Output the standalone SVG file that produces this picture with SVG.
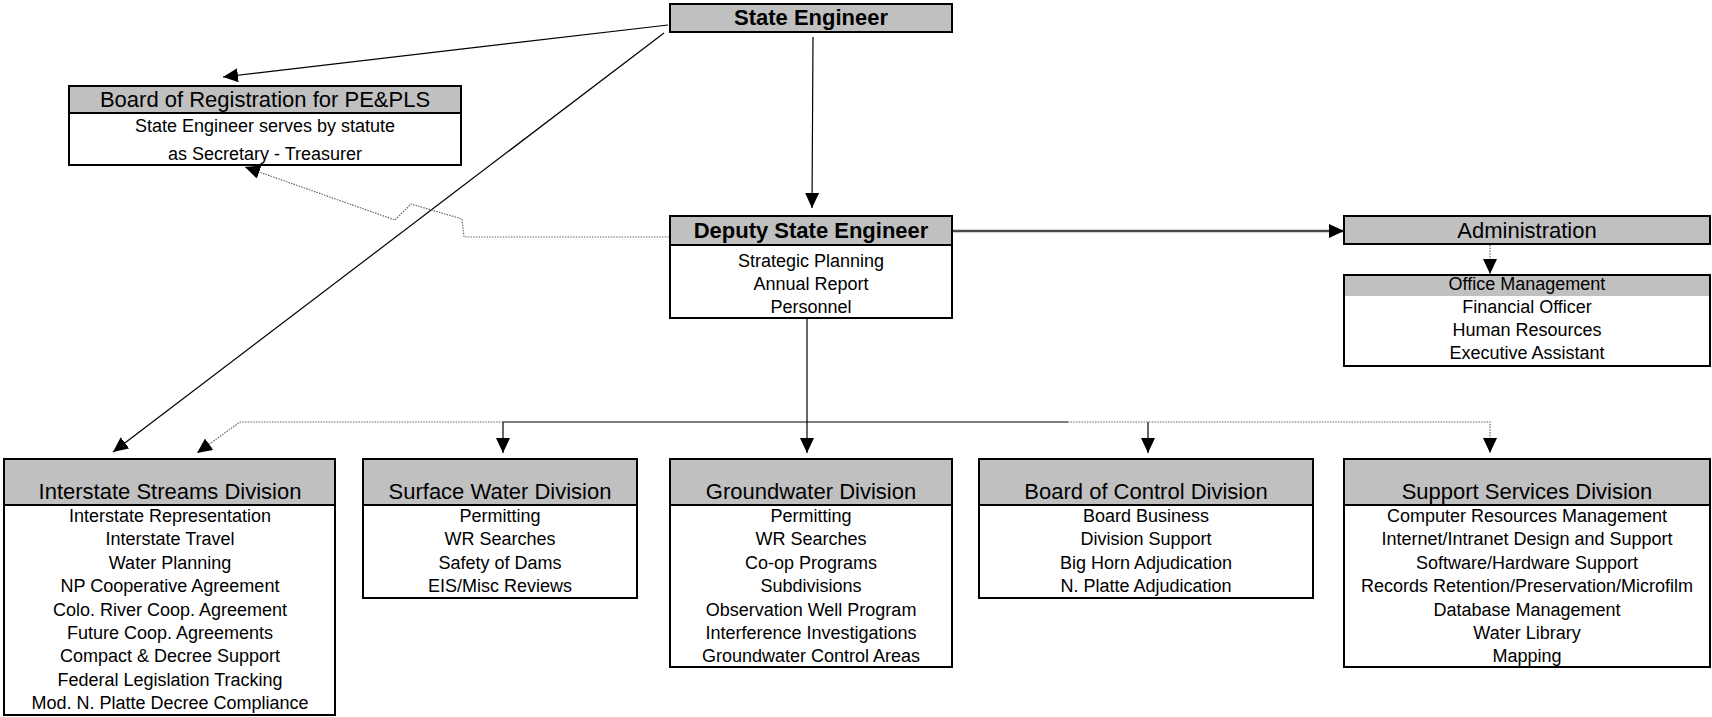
<svg xmlns="http://www.w3.org/2000/svg" width="1712" height="717" viewBox="0 0 1712 717">
<style>
text{font-family:"Liberation Sans",Arial,sans-serif;fill:#000;text-anchor:middle}
.hb{font-size:22px;font-weight:bold}
.h{font-size:22px}
.b{font-size:18px}
.box{fill:#fff;stroke:#000;stroke-width:2}
.hdr{fill:#c0c0c0;stroke:#000;stroke-width:2}
.hfill{fill:#c0c0c0}
.sep{stroke:#000;stroke-width:2}
.ln{fill:none;stroke:#000;stroke-width:1.2}
.thick{fill:none;stroke:#4a4a4a;stroke-width:2.5}
.dot{fill:none;stroke:#666;stroke-width:1.2;stroke-dasharray:1.5 1.2}
</style>
<defs>
<marker id="ah" markerUnits="userSpaceOnUse" markerWidth="15" markerHeight="14" refX="15" refY="7" orient="auto">
<path d="M0,0 L15,7 L0,14 Z" fill="#000"/>
</marker>
</defs>
<rect width="1712" height="717" fill="#fff"/>

<g id="connectors">
<path class="ln" d="M668,25 L223,77" stroke-width="1.6" marker-end="url(#ah)"/>
<path class="ln" d="M664,33 L113,452" marker-end="url(#ah)"/>
<path class="ln" d="M813,37 L812,208" marker-end="url(#ah)"/>
<path class="thick" d="M952,231 L1344,231" marker-end="url(#ah)"/>
<path class="dot" d="M1490,245 L1490,274" marker-end="url(#ah)"/>
<path class="dot" d="M669,237 L464,237 L462,219 L411,204 L395,220 L245,167" marker-end="url(#ah)"/>
<path class="ln" d="M807,319 L807,453" marker-end="url(#ah)"/>
<path class="ln" d="M503,422 L1068,422" stroke="#333" stroke-width="1.5"/>
<path class="ln" d="M503,422 L503,453" marker-end="url(#ah)"/>
<path class="ln" d="M1148,422 L1148,453" marker-end="url(#ah)"/>
<path class="dot" d="M503,422 L240,422 L197,453" marker-end="url(#ah)"/>
<path class="dot" d="M1068,422 L1490,422 L1490,453" marker-end="url(#ah)"/>
</g>

<g id="state-engineer">
<rect class="hdr" x="670" y="4" width="282" height="28"/>
<text class="hb" x="811" y="25">State Engineer</text>
</g>

<g id="board-registration">
<rect class="box" x="69" y="86" width="392" height="79"/>
<rect class="hdr" x="69" y="86" width="392" height="27"/>
<text class="h" x="265" y="107">Board of Registration for PE&amp;PLS</text>
<text class="b" x="265" y="132">State Engineer serves by statute</text>
<text class="b" x="265" y="160">as Secretary - Treasurer</text>
</g>

<g id="deputy">
<rect class="box" x="670" y="216" width="282" height="102"/>
<rect class="hdr" x="670" y="216" width="282" height="29"/>
<text class="hb" x="811" y="238">Deputy State Engineer</text>
<text class="b" x="811" y="267">Strategic Planning</text>
<text class="b" x="811" y="290">Annual Report</text>
<text class="b" x="811" y="313">Personnel</text>
</g>

<g id="administration">
<rect class="hdr" x="1344" y="216" width="366" height="28"/>
<text class="h" x="1527" y="238">Administration</text>
</g>

<g id="office">
<rect class="box" x="1344" y="275" width="366" height="91"/>
<rect class="hfill" x="1345" y="276" width="364" height="20"/>
<text class="b" x="1527" y="290">Office Management</text>
<text class="b" x="1527" y="313">Financial Officer</text>
<text class="b" x="1527" y="336">Human Resources</text>
<text class="b" x="1527" y="359">Executive Assistant</text>
</g>

<g id="interstate">
<rect class="box" x="4" y="459" width="331" height="256"/>
<rect class="hdr" x="4" y="459" width="331" height="46"/>
<text class="h" x="170" y="499">Interstate Streams Division</text>
<text class="b" x="170" y="522">Interstate Representation</text>
<text class="b" x="170" y="545.4">Interstate Travel</text>
<text class="b" x="170" y="568.8">Water Planning</text>
<text class="b" x="170" y="592.1">NP Cooperative Agreement</text>
<text class="b" x="170" y="615.5">Colo. River Coop. Agreement</text>
<text class="b" x="170" y="638.9">Future Coop. Agreements</text>
<text class="b" x="170" y="662.2">Compact &amp; Decree Support</text>
<text class="b" x="170" y="685.6">Federal Legislation Tracking</text>
<text class="b" x="170" y="709">Mod. N. Platte Decree Compliance</text>
</g>

<g id="surface">
<rect class="box" x="363" y="459" width="274" height="139"/>
<rect class="hdr" x="363" y="459" width="274" height="46"/>
<text class="h" x="500" y="499">Surface Water Division</text>
<text class="b" x="500" y="522">Permitting</text>
<text class="b" x="500" y="545.4">WR Searches</text>
<text class="b" x="500" y="568.8">Safety of Dams</text>
<text class="b" x="500" y="592.1">EIS/Misc Reviews</text>
</g>

<g id="groundwater">
<rect class="box" x="670" y="459" width="282" height="208"/>
<rect class="hdr" x="670" y="459" width="282" height="46"/>
<text class="h" x="811" y="499">Groundwater Division</text>
<text class="b" x="811" y="522">Permitting</text>
<text class="b" x="811" y="545.4">WR Searches</text>
<text class="b" x="811" y="568.8">Co-op Programs</text>
<text class="b" x="811" y="592.1">Subdivisions</text>
<text class="b" x="811" y="615.5">Observation Well Program</text>
<text class="b" x="811" y="638.9">Interference Investigations</text>
<text class="b" x="811" y="662.2">Groundwater Control Areas</text>
</g>

<g id="board-control">
<rect class="box" x="979" y="459" width="334" height="139"/>
<rect class="hdr" x="979" y="459" width="334" height="46"/>
<text class="h" x="1146" y="499">Board of Control Division</text>
<text class="b" x="1146" y="522">Board Business</text>
<text class="b" x="1146" y="545.4">Division Support</text>
<text class="b" x="1146" y="568.8">Big Horn Adjudication</text>
<text class="b" x="1146" y="592.1">N. Platte Adjudication</text>
</g>

<g id="support">
<rect class="box" x="1344" y="459" width="366" height="208"/>
<rect class="hdr" x="1344" y="459" width="366" height="46"/>
<text class="h" x="1527" y="499">Support Services Division</text>
<text class="b" x="1527" y="522">Computer Resources Management</text>
<text class="b" x="1527" y="545.4">Internet/Intranet Design and Support</text>
<text class="b" x="1527" y="568.8">Software/Hardware Support</text>
<text class="b" x="1527" y="592.1">Records Retention/Preservation/Microfilm</text>
<text class="b" x="1527" y="615.5">Database Management</text>
<text class="b" x="1527" y="638.9">Water Library</text>
<text class="b" x="1527" y="662.2">Mapping</text>
</g>
</svg>
